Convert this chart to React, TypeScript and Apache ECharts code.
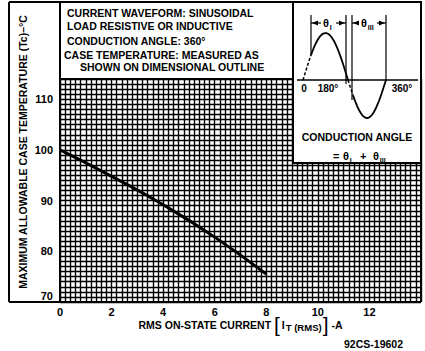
import React, { useEffect, useRef } from 'react';
import * as echarts from 'echarts';

const xTickLabels = ['0', '2', '4', '6', '8', '10', '12'];
const yTickLabels = ['70', '80', '90', '100', '110'];
const currentA = [0, 2, 4, 6, 8];
const caseTempC = [100, 94.8, 89.2, 82.8, 75.5];
const noteLines = [
  'CURRENT WAVEFORM: SINUSOIDAL',
  'LOAD RESISTIVE OR INDUCTIVE',
  'CONDUCTION ANGLE: 360°',
  'CASE TEMPERATURE: MEASURED AS',
  'SHOWN ON DIMENSIONAL OUTLINE',
];
const yTitle = 'MAXIMUM ALLOWABLE CASE TEMPERATURE (Tc)–°C';
const figureCode = '92CS-19602';

const FONT = "'Liberation Sans', Arial, sans-serif";
const INK = '#000';

function sinePts(x0: number, x1: number, from: number, to: number, amp: number, axisY: number) {
  const pts: number[][] = [];
  const n = 24;
  for (let i = 0; i <= n; i++) {
    const x = from + ((to - from) * i) / n;
    pts.push([x, axisY - amp * Math.sin((Math.PI * (x - x0)) / (x1 - x0))]);
  }
  return pts;
}

export default function App() {
  const ref = useRef<HTMLDivElement>(null);
  useEffect(() => {
    document.body.style.margin = '0';
    const chart = echarts.init(ref.current!, null, { renderer: 'svg' });
    const txt = (text: string, x: number, y: number, extra: any = {}) => ({
      type: 'text',
      x,
      y,
      z: 120,
      style: {
        text,
        fill: INK,
        fontSize: 10.5,
        fontWeight: 'bold',
        fontFamily: FONT,
        verticalAlign: 'middle',
        align: 'left',
        ...extra,
      },
    });
    const ln = (x1: number, y1: number, x2: number, y2: number, w = 2, dash?: number[]) => ({
      type: 'line',
      z: 110,
      shape: { x1, y1, x2, y2 },
      style: { stroke: INK, lineWidth: w, lineDash: dash },
    });
    const theta = (x: number, y: number, sub: string, size = 11) => [
      txt('θ', x, y, { fontSize: size, align: 'left' }),
      txt(sub, x + size * 0.62, y + 4, { fontSize: 7, align: 'left' }),
    ];
    const axisY = 80;
    const posHalfA = sinePts(303, 348, 303, 311, 47, axisY);
    const posHalfB = sinePts(303, 348, 311, 348, 47, axisY);
    const negHalfA = sinePts(348, 386, 348, 353, -38, axisY);
    const negHalfB = sinePts(348, 386, 353, 386, -38, axisY);
    const yAt311 = posHalfB[0][1];
    const noteX = [67, 67, 67, 64, 80];
    const noteY = [13, 26, 41, 55, 67];

    const option: any = {
      animation: false,
      grid: { left: 60, right: 4, top: 79, bottom: 49, containLabel: false },
      xAxis: {
        type: 'value',
        min: 0,
        max: 14,
        interval: 0.2,
        axisLine: { show: false },
        axisTick: { show: false },
        splitLine: { show: true, lineStyle: { color: INK, width: 1.4 } },
        axisLabel: {
          margin: 4,
          color: INK,
          fontFamily: FONT,
          fontWeight: 'bold',
          fontSize: 11,
          lineHeight: 12,
          formatter: (v: number) => {
            const s = String(Math.round(v * 10) / 10);
            return xTickLabels.includes(s) ? s : '';
          },
        },
        name: 'RMS ON-STATE CURRENT {br|[}{i|I}{sub|T (RMS)}{br|]} -A',
        nameLocation: 'middle',
        nameGap: 16,
        nameMoveOverlap: false,
        nameTextStyle: {
          color: INK,
          fontFamily: FONT,
          fontWeight: 'bold',
          fontSize: 10.5,
          lineHeight: 13,
          rich: {
            br: { fontSize: 21, lineHeight: 13, fontWeight: 'normal', fontFamily: FONT, color: INK },
            i: { fontSize: 10.5, lineHeight: 13, fontWeight: 'bold', fontFamily: FONT, color: INK, padding: [0, 1, 0, 2] },
            sub: { fontSize: 9.5, lineHeight: 13, fontWeight: 'bold', fontFamily: FONT, color: INK, padding: [5, 1, 0, 0] },
          },
        },
      },
      yAxis: {
        type: 'value',
        min: 70,
        max: 114,
        interval: 1,
        axisLine: { show: true, lineStyle: { color: INK, width: 2 } },
        axisTick: { show: false },
        splitLine: { show: true, lineStyle: { color: INK, width: 1.4 } },
        axisLabel: {
          margin: 7,
          color: INK,
          fontFamily: FONT,
          fontWeight: 'bold',
          fontSize: 11,
          formatter: (v: number) => {
            const r = Math.round(v);
            if (Math.abs(v - r) > 1e-6) return '';
            const s = String(r);
            if (!yTickLabels.includes(s)) return '';
            return s === yTickLabels[0] ? `{low|${s}}` : s;
          },
          rich: {
            low: { fontFamily: FONT, fontWeight: 'bold', fontSize: 11, color: INK, padding: [0, 0, 12, 0] },
          },
        },
      },
      series: [
        {
          type: 'line',
          data: currentA.map((x, i) => [x, caseTempC[i]]),
          showSymbol: false,
          smooth: 0.5,
          z: 5,
          lineStyle: { color: INK, width: 3 },
        },
      ],
      graphic: [
        ln(9, 2, 421, 2),
        ln(9, 2, 9, 302),
        ln(421, 2, 421, 302),
        ln(9, 302, 421, 302),
        ln(60, 2, 60, 80),
        ln(60, 79, 293, 79),
        {
          type: 'rect',
          z: 105,
          shape: { x: 293, y: 2, width: 128, height: 161 },
          style: { fill: '#fff', stroke: INK, lineWidth: 2 },
        },
        ...noteLines.map((t, i) => txt(t, noteX[i], noteY[i])),
        {
          type: 'text',
          x: 23,
          y: 152,
          rotation: Math.PI / 2,
          z: 120,
          style: {
            text: yTitle,
            fill: INK,
            fontSize: 10.5,
            fontWeight: 'bold',
            fontFamily: FONT,
            align: 'center',
            verticalAlign: 'middle',
          },
        },
        txt(figureCode, 403, 344, { align: 'right', fontSize: 10.5 }),
        ln(297, axisY, 418, axisY, 1.5),
        { type: 'polyline', z: 112, shape: { points: posHalfA }, style: { stroke: INK, lineWidth: 1.5, lineDash: [3, 2], fill: null } },
        { type: 'polyline', z: 112, shape: { points: posHalfB }, style: { stroke: INK, lineWidth: 1.8, fill: null } },
        { type: 'polyline', z: 112, shape: { points: negHalfA }, style: { stroke: INK, lineWidth: 1.5, lineDash: [3, 2], fill: null } },
        { type: 'polyline', z: 112, shape: { points: negHalfB }, style: { stroke: INK, lineWidth: 1.8, fill: null } },
        ln(311, 15, 311, yAt311, 1.2),
        ln(346, 15, 346, 84, 1.2),
        ln(352, 15, 352, 100, 1.2),
        ln(386, 15, 386, 80, 1.2),
        ln(311, 23, 321, 23, 1.2),
        ln(336, 23, 346, 23, 1.2),
        ln(352, 23, 358, 23, 1.2),
        ln(377, 23, 386, 23, 1.2),
        { type: 'polygon', z: 112, shape: { points: [[312, 23], [318, 20.5], [318, 25.5]] }, style: { fill: INK } },
        { type: 'polygon', z: 112, shape: { points: [[345, 23], [339, 20.5], [339, 25.5]] }, style: { fill: INK } },
        { type: 'polygon', z: 112, shape: { points: [[353, 23], [359, 20.5], [359, 25.5]] }, style: { fill: INK } },
        { type: 'polygon', z: 112, shape: { points: [[385, 23], [379, 20.5], [379, 25.5]] }, style: { fill: INK } },
        ...theta(323, 23, 'I'),
        ...theta(361, 23, 'III'),
        txt('0', 304, 88, { align: 'center', fontSize: 10 }),
        txt('180°', 328, 88, { align: 'center', fontSize: 10 }),
        txt('360°', 402, 88, { align: 'center', fontSize: 10 }),
        txt('CONDUCTION ANGLE', 357, 137, { align: 'center' }),
        txt('=', 333, 156, { fontSize: 11 }),
        ...theta(343, 156, 'I'),
        txt('+', 360, 156, { fontSize: 11 }),
        ...theta(373, 156, 'III'),
      ],
    };
    chart.setOption(option);
    return () => chart.dispose();
  }, []);
  return <div ref={ref} style={{ width: 425, height: 351 }} />;
}
